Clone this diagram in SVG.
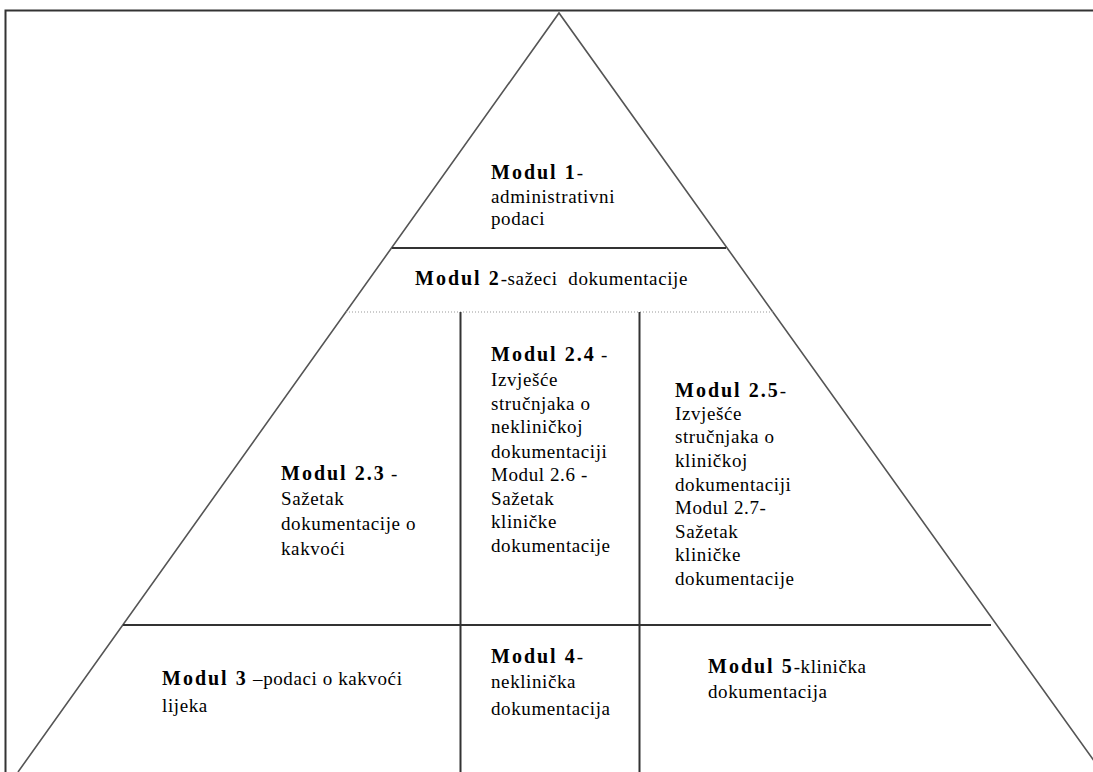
<svg xmlns="http://www.w3.org/2000/svg" width="1093" height="772" viewBox="0 0 1093 772">
<style>
.ln{stroke:#333;stroke-width:2;fill:none}
.dg{stroke:#555;stroke-width:1.6;fill:none}
.dot{stroke:#999;stroke-width:1;stroke-dasharray:1 2;fill:none}
text{font-family:"Liberation Serif","Times New Roman",serif;font-size:19px;fill:#000;letter-spacing:0.6px}
.b{font-weight:bold;font-size:20px;letter-spacing:2px}
</style>
<rect width="1093" height="772" fill="#fff"/>
<g id="connectors">
<path class="ln" d="M5.5,780 V10.5 H1100"/>
<path class="dg" d="M18,772 L559,13 L1102,772"/>
<line class="ln" x1="392" y1="248" x2="726" y2="248"/>
<line class="dot" x1="346" y1="312" x2="773" y2="312"/>
<line class="ln" x1="460.5" y1="312" x2="460.5" y2="772"/>
<line class="ln" x1="639.5" y1="312" x2="639.5" y2="772"/>
<line class="ln" x1="123" y1="625" x2="991" y2="625"/>
</g>
<g id="modul1">
<text x="491" y="179"><tspan class="b">Modul 1</tspan>-</text>
<text x="491" y="203">administrativni</text>
<text x="491" y="225">podaci</text>
</g>
<g id="modul2">
<text x="415" y="285"><tspan class="b">Modul 2</tspan>-sažeci&#160; dokumentacije</text>
</g>
<g id="modul2-3">
<text x="281" y="480"><tspan class="b">Modul 2.3</tspan> -</text>
<text x="281" y="505">Sažetak</text>
<text x="281" y="530">dokumentacije o</text>
<text x="281" y="555">kakvoći</text>
</g>
<g id="modul2-4">
<text x="491" y="361"><tspan class="b">Modul 2.4</tspan> -</text>
<text x="491" y="386">Izvješće</text>
<text x="491" y="410">stručnjaka o</text>
<text x="491" y="433">nekliničkoj</text>
<text x="491" y="458">dokumentaciji</text>
<text x="491" y="481">Modul 2.6 -</text>
<text x="491" y="505">Sažetak</text>
<text x="491" y="528">kliničke</text>
<text x="491" y="552">dokumentacije</text>
</g>
<g id="modul2-5">
<text x="675" y="397"><tspan class="b">Modul 2.5</tspan>-</text>
<text x="675" y="420">Izvješće</text>
<text x="675" y="443">stručnjaka o</text>
<text x="675" y="467">kliničkoj</text>
<text x="675" y="491">dokumentaciji</text>
<text x="675" y="514">Modul 2.7-</text>
<text x="675" y="538">Sažetak</text>
<text x="675" y="561">kliničke</text>
<text x="675" y="585">dokumentacije</text>
</g>
<g id="modul3">
<text x="162" y="685"><tspan class="b">Modul 3</tspan> –podaci o kakvoći</text>
<text x="162" y="712">lijeka</text>
</g>
<g id="modul4">
<text x="491" y="663"><tspan class="b">Modul 4</tspan>-</text>
<text x="491" y="688">neklinička</text>
<text x="491" y="715">dokumentacija</text>
</g>
<g id="modul5">
<text x="708" y="673"><tspan class="b">Modul 5</tspan>-klinička</text>
<text x="708" y="698">dokumentacija</text>
</g>
</svg>
